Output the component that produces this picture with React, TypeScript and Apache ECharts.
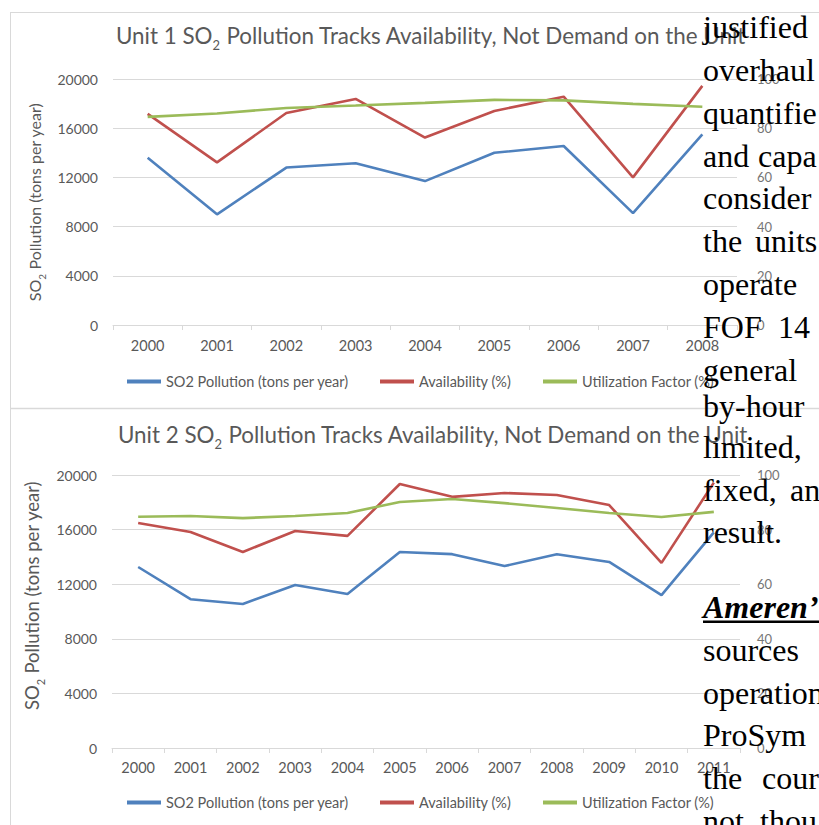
import React, { useEffect, useRef } from "react";
import * as echarts from "echarts";

// ---------- data ----------
const yearsUnit1 = ["2000", "2001", "2002", "2003", "2004", "2005", "2006", "2007", "2008"];
const so2Unit1 = [13600, 9000, 12800, 13150, 11700, 14000, 14550, 9100, 15500];
const availabilityUnit1 = [85.8, 66.1, 86.2, 91.9, 76.2, 87.0, 92.8, 60.0, 97.2];
const utilizationUnit1 = [84.6, 86.0, 88.2, 89.2, 90.3, 91.5, 91.3, 89.9, 88.7];

const yearsUnit2 = ["2000", "2001", "2002", "2003", "2004", "2005", "2006", "2007", "2008", "2009", "2010", "2011"];
const so2Unit2 = [13260, 10900, 10550, 11940, 11280, 14360, 14200, 13330, 14200, 13630, 11200, 15800];
const availabilityUnit2 = [82.4, 79.1, 71.8, 79.5, 77.7, 96.7, 92.0, 93.4, 92.7, 89.0, 67.8, 97.2];
const utilizationUnit2 = [84.7, 85.0, 84.2, 85.0, 86.1, 90.1, 91.2, 89.7, 87.9, 86.1, 84.6, 86.5];

const leftTicks = [0, 4000, 8000, 12000, 16000, 20000];
const rightTicks = [0, 20, 40, 60, 80, 100];

const seriesNames = ["SO2 Pollution (tons per year)", "Availability (%)", "Utilization Factor (%)"];
const chartTitles = [
  "Unit 1 SO{sub|2} Pollution Tracks Availability, Not Demand on the Unit",
  "Unit 2 SO{sub|2} Pollution Tracks Availability, Not Demand on the Unit",
];
const yAxisName = "SO{sub|2} Pollution (tons per year)";

const docLinesTop = ["justified", "overhaul", "quantifie", "and capa", "consider", "the units", "operate", "FOF 14", "general"];
const docLinesMid = ["by-hour", "limited,", "fixed, an", "result."];
const docEmphasis = "Ameren\u2019";
const docLinesBottom = ["sources", "operation", "ProSym", "the cour", "not thou"];

// ---------- style ----------
const FONT = "Lato";
const GREY = "#595959";
const GRID = "#d9d9d9";
const COLORS = ["#4F81BD", "#C0504D", "#9BBB59"];
const SERIF = "Liberation Serif";
// x position of the second word on justified lines (layout only)
const SECOND_WORD_X: Record<string, number> = {
  "and capa": 758,
  "the units": 755,
  "FOF 14": 778,
  "fixed, an": 790,
  "the cour": 762,
  "not thou": 760,
};

export default function App() {
  const ref = useRef<HTMLDivElement>(null);

  useEffect(() => {
    if (!ref.current) return;
    const chart = echarts.init(ref.current, undefined, { renderer: "svg", width: 819, height: 825 });

    const grids = [
      { left: 113, top: 79, width: 624, height: 246 },
      { left: 112, top: 475, width: 628, height: 273 },
    ];
    const cats = [yearsUnit1, yearsUnit2];
    const so2 = [so2Unit1, so2Unit2];
    const avail = [availabilityUnit1, availabilityUnit2];
    const util = [utilizationUnit1, utilizationUnit2];
    const titleCenters = [[431, 35], [433, 434]];
    const legendTops = [374, 795];
    const legendLefts = [127, 380, 543];
    const nameSizes = [16, 18.5];
    const nameGaps = [42, 38];
    const namePads = [[0, 0, 0, 0], [0, 0, 0, 32]];
    const xLabelMargins = [13, 12];
    const rightMargins = [20, 17];

    const xAxis: any[] = [];
    const yAxis: any[] = [];
    const series: any[] = [];
    const legend: any[] = [];
    const graphic: any[] = [];

    const subRich = (size: number) => ({
      sub: { fontSize: Math.round(size * 0.62), fontFamily: FONT, color: GREY, lineHeight: Math.round(size * 0.62), verticalAlign: "bottom" },
    });

    for (let i = 0; i < 2; i++) {
      xAxis.push({
        type: "category",
        gridIndex: i,
        data: cats[i],
        boundaryGap: true,
        axisLine: { lineStyle: { color: GRID, width: 1 } },
        axisTick: { show: true, length: 5, lineStyle: { color: GRID } },
        axisLabel: { color: GREY, fontFamily: FONT, fontSize: 14.5, margin: xLabelMargins[i], interval: 0 },
      });
      yAxis.push({
        type: "value",
        gridIndex: i,
        position: "left",
        min: leftTicks[0],
        max: leftTicks[leftTicks.length - 1],
        interval: leftTicks[1] - leftTicks[0],
        name: yAxisName,
        nameLocation: "middle",
        nameGap: nameGaps[i],
        nameRotate: 90,
        nameTextStyle: {
          color: GREY,
          fontFamily: FONT,
          fontSize: nameSizes[i],
          lineHeight: nameSizes[i] + 8,
          padding: namePads[i],
          rich: subRich(nameSizes[i]),
        },
        axisLine: { show: false },
        axisTick: { show: false },
        axisLabel: { color: GREY, fontFamily: FONT, fontSize: 14, margin: 15, formatter: (v: number) => String(v) },
        splitLine: { show: true, lineStyle: { color: GRID, width: 1 } },
      });
      yAxis.push({
        type: "value",
        gridIndex: i,
        position: "right",
        min: rightTicks[0],
        max: rightTicks[rightTicks.length - 1],
        interval: rightTicks[1] - rightTicks[0],
        axisLine: { show: false },
        axisTick: { show: false },
        axisLabel: { color: "#767676", fontFamily: FONT, fontSize: 13, margin: rightMargins[i], formatter: (v: number) => String(v) },
        splitLine: { show: false },
      });
      const lineBase = { type: "line", xAxisIndex: i, symbol: "none", smooth: false };
      series.push({ ...lineBase, name: seriesNames[0], yAxisIndex: i * 2, data: so2[i], lineStyle: { color: COLORS[0], width: 2.6 }, itemStyle: { color: COLORS[0] } });
      series.push({ ...lineBase, name: seriesNames[1], yAxisIndex: i * 2 + 1, data: avail[i], lineStyle: { color: COLORS[1], width: 2.6 }, itemStyle: { color: COLORS[1] } });
      series.push({ ...lineBase, name: seriesNames[2], yAxisIndex: i * 2 + 1, data: util[i], lineStyle: { color: COLORS[2], width: 2.6 }, itemStyle: { color: COLORS[2] } });

      for (let k = 0; k < 3; k++) {
        legend.push({
          left: legendLefts[k],
          top: legendTops[i],
          padding: 0,
          data: [{ name: seriesNames[k], itemStyle: { color: COLORS[k] } }],
          icon: "rect",
          itemWidth: 34,
          itemHeight: 4,
          selectedMode: false,
          textStyle: { color: GREY, fontFamily: FONT, fontSize: 14.5 },
        });
      }

      graphic.push({
        type: "text",
        x: titleCenters[i][0],
        y: titleCenters[i][1],
        z: 50,
        style: {
          text: chartTitles[i],
          fontFamily: FONT,
          fontSize: 22.4,
          lineHeight: 32,
          fill: GREY,
          align: "center",
          verticalAlign: "middle",
          rich: {
            sub: { fontSize: 13, fontFamily: FONT, fill: GREY, lineHeight: 13, verticalAlign: "bottom" },
          },
        },
      });
    }

    // frames of the pasted chart pictures
    graphic.push({ type: "line", z: 1, shape: { x1: 10.5, y1: 12, x2: 10.5, y2: 825 }, style: { stroke: GRID, lineWidth: 1 } });
    graphic.push({ type: "line", z: 1, shape: { x1: 10, y1: 12.5, x2: 819, y2: 12.5 }, style: { stroke: GRID, lineWidth: 1 } });
    graphic.push({ type: "line", z: 1, shape: { x1: 10, y1: 408.5, x2: 819, y2: 408.5 }, style: { stroke: GRID, lineWidth: 1.5 } });

    // overlaid document text (serif)
    const SZ = 32;
    const CENTRAL = 10.8; // baseline offset from the central line
    const textEl = (text: string, x: number, baseline: number, extra: any = {}) => ({
      type: "text",
      x,
      y: baseline - CENTRAL,
      z: 100,
      style: { text, fontFamily: SERIF, fontSize: SZ, fill: "#000", align: "left", verticalAlign: "middle", ...extra },
    });
    const docLine = (line: string, baseline: number) => {
      const sx = SECOND_WORD_X[line];
      if (sx !== undefined) {
        const idx = line.indexOf(" ");
        graphic.push(textEl(line.slice(0, idx), 703, baseline));
        graphic.push(textEl(line.slice(idx + 1), sx, baseline));
      } else {
        graphic.push(textEl(line, 703, baseline));
      }
    };
    docLinesTop.forEach((t, n) => docLine(t, 38 + 42.8 * n));
    const midBase = [417, 458, 501, 543];
    docLinesMid.forEach((t, n) => docLine(t, midBase[n]));
    graphic.push(textEl(docEmphasis, 703, 618, { fontWeight: "bold", fontStyle: "italic" }));
    graphic.push({ type: "rect", z: 100, shape: { x: 703, y: 620.5, width: 116, height: 2.5 }, style: { fill: "#000" } });
    const botBase = [661, 704, 746, 789, 832];
    docLinesBottom.forEach((t, n) => docLine(t, botBase[n]));

    chart.setOption({
      animation: false,
      backgroundColor: "#ffffff",
      grid: grids.map((g) => ({ ...g, containLabel: false })),
      xAxis,
      yAxis,
      series,
      legend,
      graphic,
    });

    return () => chart.dispose();
  }, []);

  return (
    <div
      ref={ref}
      style={{ position: "fixed", left: 0, top: 0, width: 819, height: 825, background: "#fff" }}
    />
  );
}
